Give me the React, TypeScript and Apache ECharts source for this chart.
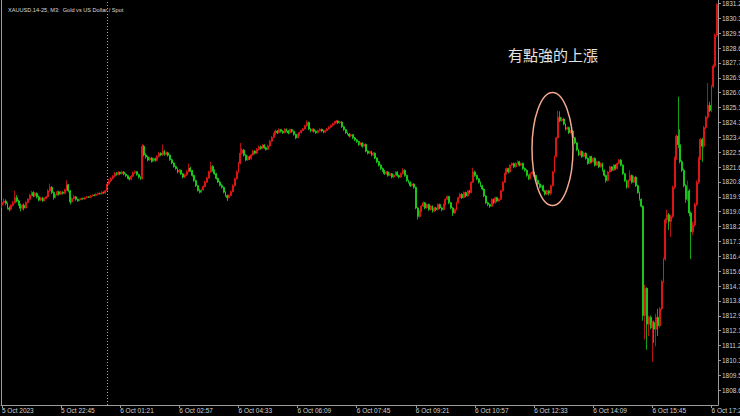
import React, { useEffect, useRef } from "react";
import * as echarts from "echarts";

const chartTitle = "XAUUSD.14-25, M3:  Gold vs US Dollar / Spot";
const annotation = "有點強的上漲";

// x tick labels, one every 32 bars (M3 bars, 96 minutes)
const tickLabels = [
  "5 Oct 2023", "5 Oct 22:45", "6 Oct 01:21", "6 Oct 02:57", "6 Oct 04:33",
  "6 Oct 06:09", "6 Oct 07:45", "6 Oct 09:21", "6 Oct 10:57", "6 Oct 12:33",
  "6 Oct 14:09", "6 Oct 15:45", "6 Oct 17:21",
];
const barsPerTick = 32;
const daySeparatorBar = 57;

// y ticks
const yMin = 1807.77;
const yMax = 1831.46;
const yStep = 0.87;

// candles: [open, close, low, high]
const candles: number[][] = [
  [1819.45, 1819.62, 1819.30, 1819.75], [1819.62, 1819.70, 1819.50, 1819.85], [1819.70, 1819.55, 1819.45, 1819.80],
  [1819.55, 1819.30, 1819.20, 1819.62], [1819.30, 1819.22, 1819.10, 1819.40], [1819.22, 1819.45, 1819.15, 1819.52],
  [1819.45, 1819.60, 1819.38, 1819.70], [1819.60, 1819.90, 1819.55, 1820.30], [1819.90, 1819.70, 1819.62, 1820.05],
  [1819.70, 1819.50, 1819.42, 1819.78], [1819.50, 1819.28, 1819.10, 1819.55], [1819.28, 1819.45, 1819.20, 1819.52],
  [1819.45, 1819.30, 1819.15, 1819.55], [1819.30, 1819.62, 1819.25, 1819.70], [1819.62, 1819.80, 1819.55, 1819.88],
  [1819.80, 1820.05, 1819.75, 1820.12], [1820.05, 1820.20, 1819.98, 1820.30], [1820.20, 1820.00, 1819.92, 1820.28],
  [1820.00, 1820.15, 1819.95, 1820.22], [1820.15, 1819.95, 1819.85, 1820.20], [1819.95, 1819.75, 1819.68, 1820.02],
  [1819.75, 1819.88, 1819.70, 1819.95], [1819.88, 1819.72, 1819.65, 1819.95], [1819.72, 1819.85, 1819.68, 1819.92],
  [1819.85, 1819.95, 1819.80, 1820.02], [1819.95, 1820.30, 1819.90, 1820.40], [1820.30, 1820.50, 1820.22, 1820.72],
  [1820.50, 1820.20, 1820.10, 1820.58], [1820.20, 1819.90, 1819.78, 1820.25], [1819.90, 1820.05, 1819.85, 1820.12],
  [1820.05, 1820.25, 1820.00, 1820.32], [1820.25, 1820.10, 1820.02, 1820.30], [1820.10, 1820.22, 1820.05, 1820.30],
  [1820.22, 1820.15, 1820.08, 1820.28], [1820.15, 1820.35, 1820.10, 1820.42], [1820.35, 1820.65, 1820.30, 1820.92],
  [1820.65, 1820.30, 1820.20, 1820.70], [1820.30, 1819.65, 1819.50, 1820.35], [1819.65, 1819.85, 1819.58, 1819.92],
  [1819.85, 1819.95, 1819.80, 1820.05], [1819.95, 1819.80, 1819.72, 1820.00], [1819.80, 1819.72, 1819.65, 1819.85],
  [1819.72, 1819.78, 1819.68, 1819.85], [1819.78, 1819.85, 1819.74, 1819.90], [1819.85, 1819.82, 1819.78, 1819.90],
  [1819.82, 1819.90, 1819.78, 1819.95], [1819.90, 1819.95, 1819.86, 1820.00], [1819.95, 1819.92, 1819.88, 1820.00],
  [1819.92, 1820.00, 1819.88, 1820.05], [1820.00, 1820.05, 1819.96, 1820.10], [1820.05, 1820.02, 1819.98, 1820.10],
  [1820.02, 1820.10, 1819.98, 1820.15], [1820.10, 1820.15, 1820.05, 1820.20], [1820.15, 1820.12, 1820.08, 1820.20],
  [1820.12, 1820.22, 1820.08, 1820.28], [1820.22, 1820.18, 1820.12, 1820.26], [1820.18, 1820.30, 1820.12, 1820.36],
  [1820.30, 1820.70, 1820.25, 1820.80], [1820.70, 1820.88, 1820.62, 1820.98], [1820.88, 1821.02, 1820.80, 1821.10],
  [1821.02, 1821.15, 1820.95, 1821.22], [1821.15, 1821.32, 1821.08, 1821.40], [1821.32, 1821.25, 1821.18, 1821.40],
  [1821.25, 1821.38, 1821.20, 1821.45], [1821.38, 1821.30, 1821.22, 1821.42], [1821.30, 1821.40, 1821.25, 1821.48],
  [1821.40, 1821.28, 1821.20, 1821.45], [1821.28, 1821.18, 1821.10, 1821.32], [1821.18, 1821.05, 1820.98, 1821.22],
  [1821.05, 1820.98, 1820.90, 1821.12], [1820.98, 1821.15, 1820.92, 1821.22], [1821.15, 1821.35, 1821.10, 1821.42],
  [1821.35, 1821.42, 1821.28, 1821.50], [1821.42, 1821.25, 1821.18, 1821.46], [1821.25, 1821.10, 1821.02, 1821.30],
  [1821.10, 1821.00, 1820.94, 1821.15], [1821.00, 1822.90, 1820.96, 1823.05], [1822.90, 1822.40, 1822.30, 1822.98],
  [1822.40, 1822.28, 1822.18, 1822.50], [1822.28, 1822.10, 1822.02, 1822.35], [1822.10, 1822.22, 1822.05, 1822.30],
  [1822.22, 1822.02, 1821.95, 1822.28], [1822.02, 1822.18, 1821.98, 1822.25], [1822.18, 1822.08, 1822.00, 1822.24],
  [1822.08, 1822.30, 1822.02, 1822.38], [1822.30, 1822.50, 1822.25, 1822.58], [1822.50, 1822.40, 1822.32, 1822.55],
  [1822.40, 1822.62, 1822.35, 1823.00], [1822.62, 1822.42, 1822.35, 1822.70], [1822.42, 1822.52, 1822.38, 1822.60],
  [1822.52, 1822.38, 1822.30, 1822.58], [1822.38, 1822.12, 1822.05, 1822.42], [1822.12, 1821.92, 1821.85, 1822.18],
  [1821.92, 1821.72, 1821.65, 1821.98], [1821.72, 1821.60, 1821.52, 1821.78], [1821.60, 1821.40, 1821.32, 1821.65],
  [1821.40, 1821.50, 1821.35, 1821.58], [1821.50, 1821.30, 1821.22, 1821.55], [1821.30, 1821.10, 1821.02, 1821.35],
  [1821.10, 1821.22, 1821.05, 1821.30], [1821.22, 1821.42, 1821.18, 1821.50], [1821.42, 1821.62, 1821.38, 1821.90],
  [1821.62, 1821.48, 1821.40, 1821.70], [1821.48, 1821.20, 1821.12, 1821.52], [1821.20, 1820.90, 1820.82, 1821.25],
  [1820.90, 1820.60, 1820.52, 1820.95], [1820.60, 1820.32, 1820.25, 1820.65], [1820.32, 1820.22, 1820.15, 1820.40],
  [1820.22, 1820.35, 1820.15, 1820.42], [1820.35, 1820.55, 1820.30, 1820.62], [1820.55, 1820.80, 1820.50, 1820.88],
  [1820.80, 1821.05, 1820.75, 1821.12], [1821.05, 1821.40, 1821.00, 1821.48], [1821.40, 1821.72, 1821.35, 1822.00],
  [1821.72, 1821.50, 1821.42, 1821.80], [1821.50, 1821.30, 1821.22, 1821.55], [1821.30, 1821.02, 1820.95, 1821.35],
  [1821.02, 1820.82, 1820.75, 1821.08], [1820.82, 1820.62, 1820.55, 1820.88], [1820.62, 1820.50, 1820.42, 1820.70],
  [1820.50, 1820.22, 1820.15, 1820.55], [1820.22, 1820.02, 1819.95, 1820.28], [1820.02, 1819.90, 1819.70, 1820.08],
  [1819.90, 1820.02, 1819.85, 1820.10], [1820.02, 1820.25, 1819.98, 1820.32], [1820.25, 1820.60, 1820.20, 1820.68],
  [1820.60, 1821.00, 1820.55, 1821.08], [1821.00, 1821.40, 1820.95, 1821.48], [1821.40, 1821.90, 1821.35, 1822.00],
  [1821.90, 1822.50, 1821.85, 1823.10], [1822.50, 1822.68, 1822.40, 1822.80], [1822.68, 1822.38, 1822.30, 1822.75],
  [1822.38, 1822.10, 1822.02, 1822.45], [1822.10, 1822.30, 1822.05, 1822.38], [1822.30, 1822.18, 1822.10, 1822.35],
  [1822.18, 1822.40, 1822.12, 1822.48], [1822.40, 1822.62, 1822.35, 1822.70], [1822.62, 1822.50, 1822.42, 1822.68],
  [1822.50, 1822.72, 1822.45, 1822.80], [1822.72, 1822.88, 1822.65, 1822.95], [1822.88, 1822.78, 1822.70, 1822.95],
  [1822.78, 1822.98, 1822.72, 1823.05], [1822.98, 1822.82, 1822.75, 1823.02], [1822.82, 1822.72, 1822.65, 1822.88],
  [1822.72, 1822.92, 1822.68, 1823.00], [1822.92, 1823.20, 1822.88, 1823.28], [1823.20, 1823.42, 1823.15, 1823.50],
  [1823.42, 1823.62, 1823.38, 1823.70], [1823.62, 1823.80, 1823.58, 1823.88], [1823.80, 1823.70, 1823.62, 1823.85],
  [1823.70, 1823.88, 1823.65, 1823.95], [1823.88, 1823.78, 1823.70, 1823.92], [1823.78, 1823.70, 1823.62, 1823.84],
  [1823.70, 1823.90, 1823.66, 1823.96], [1823.90, 1823.80, 1823.72, 1823.95], [1823.80, 1823.68, 1823.60, 1823.86],
  [1823.68, 1823.88, 1823.64, 1823.94], [1823.88, 1823.78, 1823.70, 1823.92], [1823.78, 1823.60, 1823.52, 1823.82],
  [1823.60, 1823.40, 1823.32, 1823.65], [1823.40, 1823.58, 1823.36, 1823.65], [1823.58, 1823.70, 1823.52, 1823.76],
  [1823.70, 1823.82, 1823.65, 1823.88], [1823.82, 1823.92, 1823.78, 1823.98], [1823.92, 1824.10, 1823.88, 1824.16],
  [1824.10, 1824.30, 1824.05, 1824.42], [1824.30, 1823.92, 1823.85, 1824.35], [1823.92, 1823.80, 1823.72, 1823.98],
  [1823.80, 1823.90, 1823.74, 1823.96], [1823.90, 1823.78, 1823.70, 1823.94], [1823.78, 1823.70, 1823.62, 1823.84],
  [1823.70, 1823.82, 1823.66, 1823.88], [1823.82, 1823.90, 1823.76, 1823.96], [1823.90, 1823.80, 1823.72, 1823.94],
  [1823.80, 1823.72, 1823.66, 1823.86], [1823.72, 1823.82, 1823.68, 1823.88], [1823.82, 1823.92, 1823.78, 1823.98],
  [1823.92, 1824.02, 1823.88, 1824.08], [1824.02, 1824.12, 1823.96, 1824.18], [1824.12, 1824.22, 1824.06, 1824.28],
  [1824.22, 1824.32, 1824.16, 1824.38], [1824.32, 1824.38, 1824.25, 1824.45], [1824.38, 1824.28, 1824.20, 1824.42],
  [1824.28, 1824.32, 1824.22, 1824.40], [1824.32, 1824.05, 1823.98, 1824.38], [1824.05, 1823.88, 1823.80, 1824.10],
  [1823.88, 1823.70, 1823.62, 1823.92], [1823.70, 1823.62, 1823.55, 1823.76], [1823.62, 1823.50, 1823.42, 1823.68],
  [1823.50, 1823.58, 1823.45, 1823.64], [1823.58, 1823.40, 1823.32, 1823.62], [1823.40, 1823.28, 1823.20, 1823.45],
  [1823.28, 1823.18, 1823.10, 1823.32], [1823.18, 1823.00, 1822.92, 1823.22], [1823.00, 1823.10, 1822.95, 1823.16],
  [1823.10, 1822.90, 1822.82, 1823.14], [1822.90, 1823.02, 1822.85, 1823.08], [1823.02, 1822.62, 1822.55, 1823.06],
  [1822.62, 1822.50, 1822.42, 1822.68], [1822.50, 1822.60, 1822.45, 1822.66], [1822.60, 1822.40, 1822.32, 1822.64],
  [1822.40, 1822.50, 1822.35, 1822.56], [1822.50, 1822.22, 1822.15, 1822.55], [1822.22, 1822.00, 1821.92, 1822.26],
  [1822.00, 1821.80, 1821.72, 1822.05], [1821.80, 1821.60, 1821.52, 1821.85], [1821.60, 1821.48, 1821.40, 1821.66],
  [1821.48, 1821.30, 1821.22, 1821.52], [1821.30, 1821.40, 1821.25, 1821.46], [1821.40, 1821.20, 1821.12, 1821.45],
  [1821.20, 1821.30, 1821.15, 1821.36], [1821.30, 1821.10, 1821.02, 1821.34], [1821.10, 1821.22, 1821.05, 1821.28],
  [1821.22, 1821.40, 1821.18, 1821.46], [1821.40, 1821.20, 1821.12, 1821.44], [1821.20, 1821.10, 1821.02, 1821.25],
  [1821.10, 1821.30, 1821.05, 1821.36], [1821.30, 1821.50, 1821.25, 1821.62], [1821.50, 1821.20, 1821.12, 1821.55],
  [1821.20, 1820.90, 1820.82, 1821.24], [1820.90, 1820.80, 1820.72, 1820.95], [1820.80, 1820.60, 1820.52, 1820.85],
  [1820.60, 1820.70, 1820.55, 1820.76], [1820.70, 1820.50, 1820.42, 1820.74], [1820.50, 1819.30, 1819.22, 1820.55],
  [1819.30, 1818.80, 1818.62, 1819.35], [1818.80, 1819.10, 1818.72, 1819.18], [1819.10, 1819.40, 1819.05, 1819.48],
  [1819.40, 1819.60, 1819.35, 1819.68], [1819.60, 1819.30, 1819.22, 1819.65], [1819.30, 1819.50, 1819.25, 1819.56],
  [1819.50, 1819.20, 1819.12, 1819.55], [1819.20, 1819.40, 1819.15, 1819.46], [1819.40, 1819.10, 1819.02, 1819.45],
  [1819.10, 1819.30, 1819.05, 1819.36], [1819.30, 1819.20, 1819.12, 1819.36], [1819.20, 1819.50, 1819.15, 1819.56],
  [1819.50, 1819.30, 1819.22, 1819.55], [1819.30, 1819.20, 1819.10, 1819.36], [1819.20, 1819.50, 1819.15, 1819.56],
  [1819.50, 1819.80, 1819.45, 1819.86], [1819.80, 1819.97, 1819.75, 1820.02], [1819.97, 1819.60, 1819.52, 1820.00],
  [1819.60, 1819.30, 1819.22, 1819.65], [1819.30, 1819.00, 1818.82, 1819.35], [1819.00, 1819.20, 1818.95, 1819.26],
  [1819.20, 1819.60, 1819.15, 1819.66], [1819.60, 1819.90, 1819.55, 1819.96], [1819.90, 1820.10, 1819.85, 1820.18],
  [1820.10, 1819.90, 1819.82, 1820.15], [1819.90, 1820.20, 1819.85, 1820.26], [1820.20, 1820.00, 1819.92, 1820.25],
  [1820.00, 1820.30, 1819.95, 1820.36], [1820.30, 1820.20, 1820.12, 1820.35], [1820.20, 1820.80, 1820.15, 1820.86],
  [1820.80, 1821.40, 1820.75, 1821.65], [1821.40, 1821.20, 1821.12, 1821.48], [1821.20, 1821.00, 1820.92, 1821.25],
  [1821.00, 1820.80, 1820.72, 1821.05], [1820.80, 1820.60, 1820.52, 1820.85], [1820.60, 1820.40, 1820.32, 1820.65],
  [1820.40, 1820.00, 1819.92, 1820.45], [1820.00, 1819.60, 1819.52, 1820.05], [1819.60, 1819.50, 1819.40, 1819.66],
  [1819.50, 1819.40, 1819.30, 1819.56], [1819.40, 1819.80, 1819.35, 1819.86], [1819.80, 1819.60, 1819.52, 1819.85],
  [1819.60, 1819.90, 1819.55, 1819.96], [1819.90, 1819.70, 1819.62, 1819.95], [1819.70, 1819.80, 1819.65, 1819.86],
  [1819.80, 1820.30, 1819.75, 1820.36], [1820.30, 1820.80, 1820.25, 1820.86], [1820.80, 1821.30, 1820.75, 1821.36],
  [1821.30, 1821.60, 1821.25, 1821.66], [1821.60, 1821.40, 1821.32, 1821.65], [1821.40, 1821.80, 1821.35, 1821.86],
  [1821.80, 1821.90, 1821.75, 1821.96], [1821.90, 1821.70, 1821.62, 1821.95], [1821.70, 1821.90, 1821.65, 1821.96],
  [1821.90, 1822.00, 1821.85, 1822.08], [1822.00, 1821.80, 1821.72, 1822.05], [1821.80, 1821.90, 1821.75, 1821.96],
  [1821.90, 1821.60, 1821.52, 1821.95], [1821.60, 1821.50, 1821.42, 1821.66], [1821.50, 1821.20, 1821.12, 1821.55],
  [1821.20, 1821.00, 1820.92, 1821.25], [1821.00, 1821.30, 1820.95, 1821.36], [1821.30, 1821.40, 1821.25, 1821.46],
  [1821.40, 1821.20, 1821.12, 1821.45], [1821.20, 1820.90, 1820.82, 1821.25], [1820.90, 1820.70, 1820.62, 1820.95],
  [1820.70, 1820.50, 1820.42, 1820.75], [1820.50, 1820.60, 1820.45, 1820.66], [1820.60, 1820.30, 1820.22, 1820.65],
  [1820.30, 1820.10, 1820.02, 1820.35], [1820.10, 1820.30, 1820.05, 1820.36], [1820.30, 1820.15, 1820.02, 1820.35],
  [1820.15, 1820.60, 1820.05, 1820.66], [1820.60, 1821.40, 1820.55, 1821.46], [1821.40, 1822.30, 1821.35, 1822.36],
  [1822.30, 1823.40, 1822.25, 1823.46], [1823.40, 1824.60, 1823.35, 1824.98], [1824.60, 1824.40, 1824.30, 1824.95],
  [1824.40, 1824.50, 1824.32, 1824.62], [1824.50, 1824.20, 1824.12, 1824.55], [1824.20, 1823.90, 1823.82, 1824.25],
  [1823.90, 1824.00, 1823.85, 1824.06], [1824.00, 1823.70, 1823.62, 1824.05], [1823.70, 1823.80, 1823.65, 1823.86],
  [1823.80, 1823.40, 1823.32, 1823.85], [1823.40, 1823.10, 1823.02, 1823.45], [1823.10, 1822.70, 1822.62, 1823.15],
  [1822.70, 1822.40, 1822.32, 1822.75], [1822.40, 1822.60, 1822.35, 1822.66], [1822.60, 1822.30, 1822.22, 1822.65],
  [1822.30, 1822.50, 1822.25, 1822.56], [1822.50, 1822.20, 1822.12, 1822.55], [1822.20, 1821.90, 1821.82, 1822.25],
  [1821.90, 1822.30, 1821.85, 1822.36], [1822.30, 1822.00, 1821.92, 1822.35], [1822.00, 1822.20, 1821.95, 1822.26],
  [1822.20, 1821.80, 1821.72, 1822.25], [1821.80, 1822.00, 1821.75, 1822.06], [1822.00, 1821.70, 1821.62, 1822.05],
  [1821.70, 1821.90, 1821.65, 1821.96], [1821.90, 1821.50, 1821.42, 1821.95], [1821.50, 1821.20, 1821.12, 1821.55],
  [1821.20, 1820.90, 1820.78, 1821.25], [1820.90, 1821.40, 1820.85, 1821.46], [1821.40, 1821.70, 1821.35, 1821.76],
  [1821.70, 1821.50, 1821.42, 1821.75], [1821.50, 1821.80, 1821.45, 1821.86], [1821.80, 1821.60, 1821.52, 1821.85],
  [1821.60, 1821.90, 1821.55, 1821.96], [1821.90, 1822.10, 1821.85, 1822.16], [1822.10, 1821.80, 1821.72, 1822.15],
  [1821.80, 1821.30, 1821.22, 1821.85], [1821.30, 1820.90, 1820.82, 1821.35], [1820.90, 1820.50, 1820.42, 1820.95],
  [1820.50, 1820.90, 1820.45, 1820.96], [1820.90, 1821.20, 1820.85, 1821.50], [1821.20, 1820.80, 1820.72, 1821.25],
  [1820.80, 1821.10, 1820.75, 1821.16], [1821.10, 1820.60, 1820.52, 1821.15], [1820.60, 1820.20, 1820.12, 1820.65],
  [1820.20, 1819.80, 1819.72, 1820.25], [1819.80, 1819.40, 1819.32, 1819.85], [1819.40, 1813.00, 1812.70, 1819.45],
  [1813.00, 1814.60, 1811.60, 1814.80], [1814.60, 1812.50, 1811.00, 1814.65], [1812.50, 1812.90, 1811.80, 1813.00],
  [1812.90, 1812.30, 1812.20, 1813.00], [1812.30, 1812.60, 1810.30, 1812.70], [1812.60, 1812.20, 1811.40, 1812.70],
  [1812.20, 1812.90, 1811.20, 1813.10], [1812.90, 1812.40, 1811.80, 1813.40], [1812.40, 1813.40, 1812.30, 1813.50],
  [1813.40, 1815.00, 1813.30, 1815.10], [1815.00, 1816.30, 1814.90, 1816.40], [1816.30, 1818.60, 1816.20, 1818.70],
  [1818.60, 1818.90, 1818.40, 1819.20], [1818.90, 1818.50, 1818.00, 1819.00], [1818.50, 1818.80, 1817.60, 1818.90],
  [1818.80, 1820.50, 1818.70, 1820.60], [1820.50, 1822.20, 1820.40, 1822.30], [1822.20, 1823.50, 1822.10, 1823.60],
  [1823.50, 1823.00, 1822.80, 1825.80], [1823.00, 1822.00, 1821.90, 1823.90], [1822.00, 1821.50, 1821.40, 1822.10],
  [1821.50, 1820.60, 1820.50, 1821.60], [1820.60, 1819.80, 1819.60, 1820.70], [1819.80, 1820.30, 1819.70, 1820.90],
  [1820.30, 1819.00, 1818.80, 1820.40], [1819.00, 1817.90, 1816.30, 1819.10], [1817.90, 1818.30, 1817.70, 1818.50],
  [1818.30, 1819.50, 1818.20, 1819.60], [1819.50, 1820.80, 1819.40, 1820.90], [1820.80, 1822.20, 1820.70, 1822.30],
  [1822.20, 1823.30, 1822.10, 1823.40], [1823.30, 1822.90, 1822.00, 1823.40], [1822.90, 1824.00, 1822.80, 1824.10],
  [1824.00, 1824.60, 1823.90, 1824.70], [1824.60, 1825.30, 1824.50, 1826.60], [1825.30, 1825.00, 1824.90, 1825.50],
  [1825.00, 1826.40, 1824.90, 1826.50], [1826.40, 1827.60, 1826.30, 1827.70], [1827.60, 1829.40, 1827.50, 1829.50],
  [1829.40, 1831.20, 1829.30, 1831.26],
];

const categories = candles.map((_, i) => String(i));

export default function App() {
  const ref = useRef<HTMLDivElement>(null);

  useEffect(() => {
    if (!ref.current) return;
    const chart = echarts.init(ref.current, null, { renderer: "svg" });
    const axisColor = "#9a9a9a";
    const labelColor = "#d0d0d0";
    const font = "Liberation Sans";
    chart.setOption({
      animation: false,
      backgroundColor: "#000000",
      title: {
        text: chartTitle,
        left: 3,
        top: 2,
        textStyle: { color: "#dcdcdc", fontSize: 5.6, fontWeight: "normal", fontFamily: font },
      },
      grid: { left: 1, right: 22, top: 0, bottom: 11, containLabel: false, outerBoundsMode: "none" },
      xAxis: {
        type: "category",
        data: categories,
        boundaryGap: true,
        axisLine: { show: true, lineStyle: { color: axisColor, width: 1 } },
        axisTick: { show: true, interval: barsPerTick - 1, alignWithLabel: true, length: 3, lineStyle: { color: axisColor } },
        axisLabel: {
          interval: barsPerTick - 1,
          color: labelColor,
          fontSize: 6.5,
          fontFamily: font,
          margin: 2,
          align: "left",
          hideOverlap: false,
          formatter: (_v: string, idx: number) =>
            idx % barsPerTick === 0 ? tickLabels[idx / barsPerTick] ?? "" : "",
        },
        splitLine: { show: false },
      },
      yAxis: {
        type: "value",
        position: "right",
        min: yMin,
        max: yMax,
        interval: yStep,
        scale: true,
        axisLine: { show: true, lineStyle: { color: axisColor, width: 1 } },
        axisTick: { show: true, length: 3, lineStyle: { color: axisColor } },
        axisLabel: {
          color: labelColor,
          fontSize: 6.5,
          fontFamily: font,
          margin: 4,
          showMinLabel: false,
          showMaxLabel: false,
          formatter: (v: number) => v.toFixed(2),
        },
        splitLine: { show: false },
      },
      graphic: [
        {
          type: "line",
          shape: { x1: 1.5, y1: 0, x2: 1.5, y2: 405 },
          style: { stroke: axisColor, lineWidth: 1 },
          silent: true,
        },
        {
          type: "text",
          left: 508,
          top: 47,
          style: {
            text: annotation,
            fill: "#e2e2e2",
            fontSize: 15,
            fontFamily: "Noto Sans CJK TC",
          },
          silent: true,
        },
        {
          type: "ellipse",
          shape: { cx: 552.5, cy: 149, rx: 20.5, ry: 56.5 },
          style: { fill: "none", stroke: "#f2a88e", lineWidth: 1.5 },
          silent: true,
          z: 10,
        },
      ],
      series: [
        {
          type: "candlestick",
          data: candles,
          barWidth: 1.4,
          itemStyle: {
            color: "#ff1a1a",
            color0: "#1ee81e",
            borderColor: "#ff1a1a",
            borderColor0: "#1ee81e",
            borderWidth: 0.7,
          },
          emphasis: { disabled: true },
          markLine: {
            silent: true,
            symbol: "none",
            label: { show: false },
            lineStyle: { color: "#a8a8a8", type: [1, 2], width: 1 },
            data: [{ xAxis: String(daySeparatorBar) }],
          },
        },
      ],
    });
    return () => chart.dispose();
  }, []);

  return (
    <div
      ref={ref}
      style={{ position: "fixed", left: 0, top: 0, width: 740, height: 416 }}
    />
  );
}
